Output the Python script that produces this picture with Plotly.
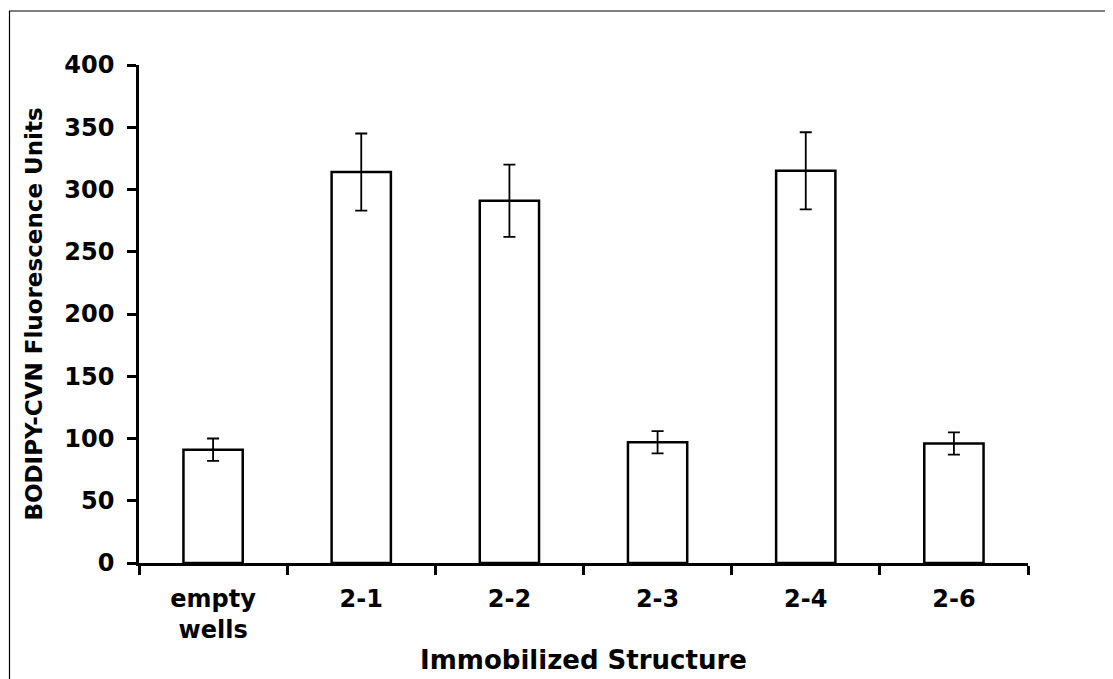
import plotly.graph_objects as go

categories = ["empty<br>wells", "2-1", "2-2", "2-3", "2-4", "2-6"]
values = [91, 314, 291, 97, 315, 96]
errors = [9, 31, 29, 9, 31, 9]
y_ticks = [0, 50, 100, 150, 200, 250, 300, 350, 400]

FONT = "DejaVu Sans"
L, R, T, B = 131, 93, 57, 124
PW, PH = 1113 - L - R, 679 - T - B

fig = go.Figure()
fig.add_trace(go.Bar(
    x=categories, y=values, width=0.4,
    marker=dict(color="white", line=dict(color="black", width=2.5)),
    error_y=dict(type="data", array=errors, visible=True, color="black", thickness=1.8, width=6),
))

fig.update_layout(
    width=1113, height=679,
    margin=dict(l=L, r=R, t=T, b=B, autoexpand=False),
    plot_bgcolor="white", paper_bgcolor="white",
    showlegend=False,
    font=dict(family=FONT, size=22, color="black", weight="bold"),
    shapes=[dict(type="rect", xref="paper", yref="paper",
                 x0=(1.5 - L) / PW, x1=1.2, y0=-0.5, y1=1 + (T - 3) / PH,
                 line=dict(color="black", width=1.2), fillcolor="rgba(0,0,0,0)", layer="below")],
)

fig.update_xaxes(
    type="category", showline=True, linecolor="black", linewidth=2.5, automargin=False,
    ticks="outside", tickson="boundaries", ticklen=9, tickwidth=2.5, tickcolor="black",
    tickfont=dict(family=FONT, size=24, weight="bold"), ticklabelstandoff=12,
    title=dict(text="Immobilized Structure", font=dict(family=FONT, size=26, weight="bold"), standoff=9),
    showgrid=False, zeroline=False,
)
fig.update_yaxes(
    range=[0, 400], tickvals=y_ticks, showline=True, linecolor="black", linewidth=2.5, automargin=False,
    ticks="outside", ticklen=9, tickwidth=2.5, tickcolor="black",
    tickfont=dict(family=FONT, size=24, weight="bold"), ticklabelstandoff=8,
    title=dict(text="BODIPY-CVN Fluorescence Units", font=dict(family=FONT, size=23, weight="bold"), standoff=16),
    showgrid=False, zeroline=False,
)

fig.write_html("out.html")
